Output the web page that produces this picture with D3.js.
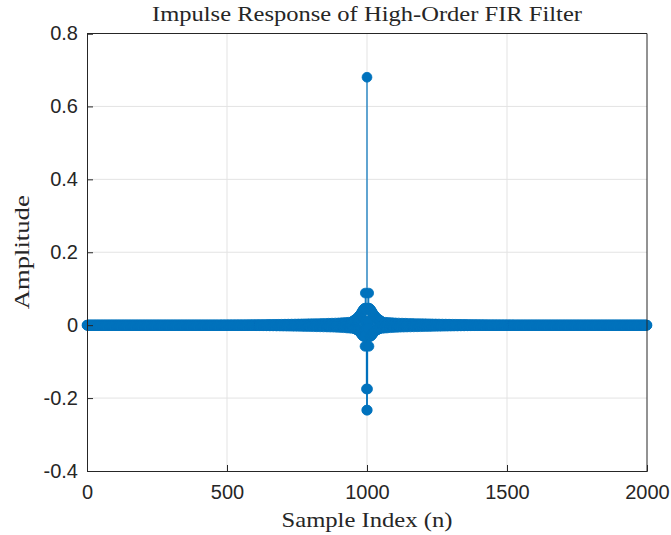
<!DOCTYPE html>
<html lang="en">
<head>
    <meta charset="UTF-8">
    <title>Impulse Response of High-Order FIR Filter</title>
    <script src="https://d3js.org/d3.v7.min.js"></script>
    <style>
        body {margin: 0; background: white;}
        .tick text {font-family: "Liberation Sans", Arial, sans-serif; font-size: 20px; fill: #262626;}
        .lbl {font-family: "Liberation Serif", "DejaVu Serif", serif; fill: #262626;}
    </style>
</head>
<body>
<div id="chart"></div>
<script>

    // sample index axis (n = 0..2000), filter centre at n = 1000
    var sampleIndex = d3.range(0, 2001);
    var centerIndex = 1000;

    // main lobe taps, offset 0..50 from the centre (filter is symmetric)
    var nearOffset = d3.range(0, 51);
    var nearTaps = [0.680, -0.233, -0.175, 0.010, -0.008, 0.047, 0.088, -0.058, 0.046, -0.031,
                    0.045, -0.031, 0.043, -0.030, 0.041, -0.029, 0.039, -0.027, 0.036, -0.025,
                    0.033, -0.023, 0.031, -0.021, 0.029, -0.019, 0.027, -0.017, 0.025, -0.016,
                    0.023, -0.015, 0.021, -0.014, 0.019, -0.013, 0.018, -0.012, 0.017, -0.011,
                    0.016, -0.010, 0.015, -0.010, 0.014, -0.009, 0.013, -0.009, 0.012, -0.008,
                    0.011];

    // side lobe taps read every 6 samples from offset 53 on (tails beyond read as 0)
    var farOffset = d3.range(53, 533, 6);
    var farTaps = [0.009, -0.0085, 0.008, -0.0078, 0.0075, -0.007, 0.0068, -0.0065, 0.0062, -0.006,
                   0.0058, -0.0056, 0.0055, -0.0053, 0.0052, -0.005, 0.0049, -0.0048, 0.0047, -0.0046,
                   0.0045, -0.0044, 0.0043, -0.0042, 0.0041, -0.004, 0.0039, -0.0038, 0.0037, -0.0036,
                   0.0035, -0.0034, 0.0033, -0.0032, 0.0031, -0.003, 0.0029, -0.0028, 0.0028, -0.0027,
                   0.0026, -0.0025, 0.0024, -0.0023, 0.0023, -0.0022, 0.0021, -0.002, 0.0019, -0.0019,
                   0.0018, -0.0017, 0.0016, -0.0016, 0.0015, -0.0014, 0.0014, -0.0013, 0.0012, -0.0012,
                   0.0011, -0.0011, 0.001, -0.001, 0.0009, -0.0009, 0.0008, -0.0008, 0.0007, -0.0007,
                   0.0007, -0.0006, 0.0006, -0.0006, 0.0005, -0.0005, 0.0005, -0.0004, 0.0004, -0.0004];

    var xTicks = [0, 500, 1000, 1500, 2000];
    var yTicks = [-0.4, -0.2, 0, 0.2, 0.4, 0.6, 0.8];

    var values = sampleIndex.map(function() { return 0; });
    function putTaps(offsets, taps) {
        offsets.forEach(function(d, i) {
            values[centerIndex + d] = taps[i];
            values[centerIndex - d] = taps[i];
        });
    }
    putTaps(farOffset, farTaps);
    putTaps(nearOffset, nearTaps);
    var data = sampleIndex.map(function(n, i) { return {n: n, v: values[i]}; });

    var W = 671, H = 535;
    var margin = {top: 33.5, right: 24, bottom: 64, left: 87};
    var width = W - margin.left - margin.right,
        height = H - margin.top - margin.bottom;

    var blue = "#0072BD", axisCol = "#262626";

    var svg = d3.select("#chart").append("svg")
        .attr("width", W)
        .attr("height", H);

    var g = svg.append("g")
        .attr("transform", "translate(" + margin.left + "," + margin.top + ")");

    var x = d3.scaleLinear().domain([0, 2000]).range([0, width]);
    var y = d3.scaleLinear().domain([-0.4, 0.8]).range([height, 0]);

    // grid
    g.append("g").selectAll("line").data(xTicks.slice(1, -1)).enter().append("line")
        .attr("x1", function(d) { return x(d); }).attr("x2", function(d) { return x(d); })
        .attr("y1", 0).attr("y2", height)
        .attr("stroke", "#e3e3e3").attr("stroke-width", 1);
    g.append("g").selectAll("line").data(yTicks.slice(1, -1)).enter().append("line")
        .attr("y1", function(d) { return y(d); }).attr("y2", function(d) { return y(d); })
        .attr("x1", 0).attr("x2", width)
        .attr("stroke", "#e3e3e3").attr("stroke-width", 1);

    // stems
    g.append("g").selectAll("line")
        .data(data.filter(function(d) { return d.v !== 0; }))
        .enter().append("line")
        .attr("x1", function(d) { return x(d.n); }).attr("x2", function(d) { return x(d.n); })
        .attr("y1", y(0)).attr("y2", function(d) { return y(d.v); })
        .attr("stroke", blue).attr("stroke-width", 1.2);

    // markers
    g.append("g").selectAll("circle")
        .data(data)
        .enter().append("circle")
        .attr("cx", function(d) { return x(d.n); })
        .attr("cy", function(d) { return y(d.v); })
        .attr("r", 4.9)
        .attr("fill", blue)
        .attr("stroke", blue)
        .attr("stroke-width", 0.8);

    // axes (plain hyphen for negatives, like the original)
    var fmtY = function(d) { return String(+d.toFixed(1)); };
    var xAxis = g.append("g")
        .attr("transform", "translate(0," + height + ")")
        .call(d3.axisBottom(x).tickValues(xTicks).tickSize(-6).tickPadding(14).tickFormat(function(d) { return String(d); }));
    var yAxis = g.append("g")
        .call(d3.axisLeft(y).tickValues(yTicks).tickSize(-6).tickPadding(9).tickFormat(fmtY));
    [xAxis, yAxis].forEach(function(a) {
        a.select(".domain").attr("stroke", axisCol);
        a.selectAll(".tick line").attr("stroke", axisCol);
    });
    xAxis.selectAll(".tick text").attr("dy", "0.71em");

    // box top / right
    g.append("line").attr("x1", 0).attr("x2", width).attr("y1", 0).attr("y2", 0)
        .attr("stroke", axisCol);
    g.append("line").attr("x1", width).attr("x2", width).attr("y1", 0).attr("y2", height)
        .attr("stroke", axisCol);

    // labels
    svg.append("text").attr("class", "lbl")
        .attr("x", margin.left + width / 2).attr("y", 21)
        .attr("text-anchor", "middle").attr("font-size", 21)
        .attr("textLength", 430).attr("lengthAdjust", "spacingAndGlyphs")
        .text("Impulse Response of High-Order FIR Filter");

    svg.append("text").attr("class", "lbl")
        .attr("x", margin.left + width / 2).attr("y", 527)
        .attr("text-anchor", "middle").attr("font-size", 21)
        .attr("textLength", 171).attr("lengthAdjust", "spacingAndGlyphs")
        .text("Sample Index (n)");

    svg.append("text").attr("class", "lbl")
        .attr("transform", "translate(29," + (margin.top + height / 2) + ") rotate(-90)")
        .attr("text-anchor", "middle").attr("font-size", 21)
        .attr("textLength", 114).attr("lengthAdjust", "spacingAndGlyphs")
        .text("Amplitude");

</script>
</body>
</html>
